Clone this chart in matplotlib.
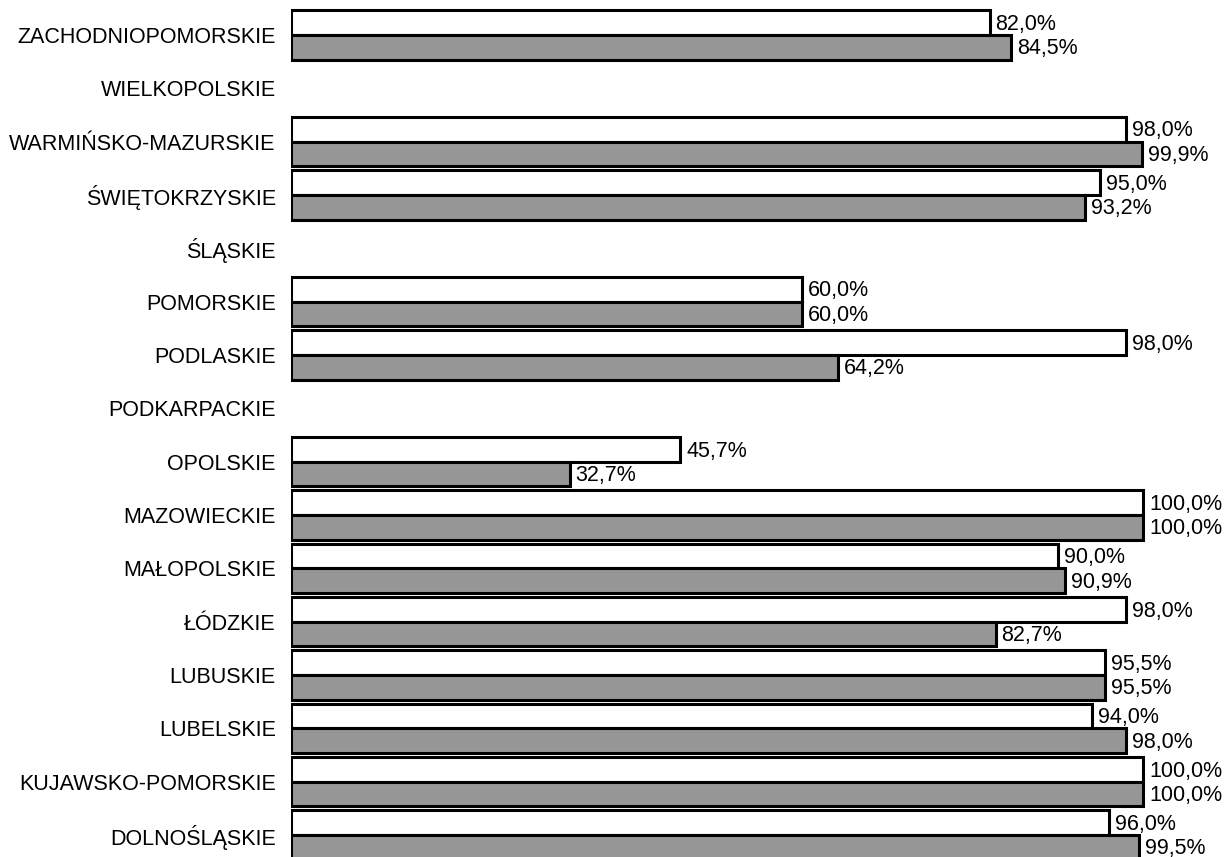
import numpy as np
import matplotlib
matplotlib.use("Agg")
import matplotlib.pyplot as plt

plt.rcParams['font.family'] = ['Liberation Sans', 'DejaVu Sans']

# województwa, od góry do dołu
regions = [
    "ZACHODNIOPOMORSKIE", "WIELKOPOLSKIE", "WARMIŃSKO-MAZURSKIE", "ŚWIĘTOKRZYSKIE",
    "ŚLĄSKIE", "POMORSKIE", "PODLASKIE", "PODKARPACKIE", "OPOLSKIE", "MAZOWIECKIE",
    "MAŁOPOLSKIE", "ŁÓDZKIE", "LUBUSKIE", "LUBELSKIE", "KUJAWSKO-POMORSKIE", "DOLNOŚLĄSKIE",
]
# seria biała (górny słupek) i szara (dolny słupek), w %
white_vals = [82.0, np.nan, 98.0, 95.0, np.nan, 60.0, 98.0, np.nan, 45.7, 100.0,
              90.0, 98.0, 95.5, 94.0, 100.0, 96.0]
grey_vals = [84.5, np.nan, 99.9, 93.2, np.nan, 60.0, 64.2, np.nan, 32.7, 100.0,
             90.9, 82.7, 95.5, 98.0, 100.0, 99.5]

n = len(regions)
y = np.arange(n)[::-1]  # pierwsza kategoria na górze
h = 0.46

fig = plt.figure(figsize=(12.27, 8.57), dpi=100)
ax = fig.add_axes([291 / 1227, 1 - 861.7 / 857, 1.1 * 852 / 1227, (861.7 - 8.3) / 857])

white = np.array(white_vals)
grey = np.array(grey_vals)
ax.barh(y + h / 2, white, height=h, color='white', edgecolor='black', linewidth=2.2)
ax.barh(y - h / 2, grey, height=h, color='#969696', edgecolor='black', linewidth=2.2)

def fmt(v):
    return f"{v:.1f}%".replace('.', ',')

for yi, w, g in zip(y, white, grey):
    if not np.isnan(w):
        ax.text(w + 0.7, yi + h / 2 - 0.03, fmt(w), va='center', ha='left', fontsize=15.5)
    if not np.isnan(g):
        ax.text(g + 0.7, yi - h / 2 - 0.03, fmt(g), va='center', ha='left', fontsize=15.5)

ax.set_xlim(0, 110)
ax.set_ylim(-0.5, n - 0.5)
ax.set_yticks(y)
ax.set_yticklabels(regions, fontsize=15.5)
ax.tick_params(axis='y', length=0, pad=11)
ax.set_xticks([])
for s in ax.spines.values():
    s.set_visible(False)

fig.savefig("out.png", dpi=100)
